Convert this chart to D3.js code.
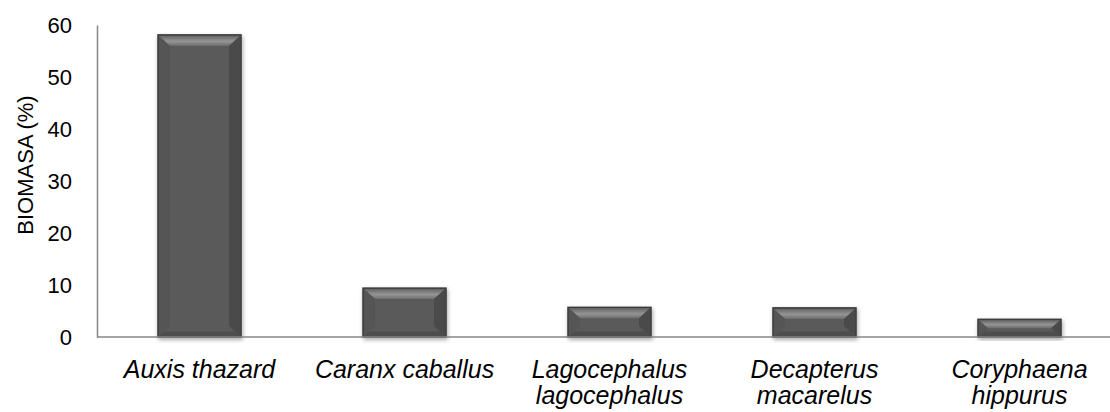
<!DOCTYPE html>
<html>
<head>
    <style>
        body { margin: 0; background: #fff; }
        .tick text { font: 22px "Liberation Sans", Arial, sans-serif; fill: #000; }
        .cat { font: italic 25px "Liberation Sans", Arial, sans-serif; fill: #000; }
        .ytitle { font: 22px "Liberation Sans", Arial, sans-serif; fill: #000; }
    </style>
</head>
<body>
    <div id="chart"></div>
    <script src="https://d3js.org/d3.v7.min.js"></script>
    <script>
        // data
        const species = [
            ["Auxis thazard"],
            ["Caranx caballus"],
            ["Lagocephalus", "lagocephalus"],
            ["Decapterus", "macarelus"],
            ["Coryphaena", "hippurus"]
        ];
        const biomasa = [58.1, 9.4, 5.7, 5.6, 3.4];
        const yTicks = [0, 10, 20, 30, 40, 50, 60];

        const width = 1110, height = 412;
        const plotLeft = 97, plotTop = 25, plotBottom = 337;

        const svg = d3.select("#chart").append("svg")
            .attr("width", width)
            .attr("height", height);

        const defs = svg.append("defs");
        const shadow = defs.append("filter").attr("id", "shadow")
            .attr("x", "-20%").attr("y", "-20%").attr("width", "140%").attr("height", "140%");
        shadow.append("feDropShadow")
            .attr("dx", 1).attr("dy", 2).attr("stdDeviation", 2)
            .attr("flood-color", "#000").attr("flood-opacity", 0.35);

        const topGrad = defs.append("linearGradient").attr("id", "topBevel")
            .attr("x1", 0).attr("y1", 0).attr("x2", 0).attr("y2", 1);
        topGrad.append("stop").attr("offset", "0%").attr("stop-color", "#666");
        topGrad.append("stop").attr("offset", "55%").attr("stop-color", "#959595");
        topGrad.append("stop").attr("offset", "100%").attr("stop-color", "#6c6c6c");

        const x = d3.scaleBand()
            .domain(d3.range(species.length))
            .range([plotLeft, plotLeft + 1025])
            .paddingInner(0.595)
            .paddingOuter(0.2975);

        const y = d3.scaleLinear().domain([0, 60]).range([plotBottom, plotTop]);

        // y axis (no tick marks)
        const yAxis = svg.append("g")
            .attr("transform", `translate(${plotLeft},0)`)
            .call(d3.axisLeft(y).tickValues(yTicks).tickSize(0).tickPadding(25));
        yAxis.select(".domain").attr("stroke", "#868686").attr("stroke-width", 1.5);

        // bars
        const bw = x.bandwidth();
        const bev = 11;
        const bars = svg.selectAll(".bar")
            .data(biomasa)
            .enter()
            .append("g")
            .attr("class", "bar")
            .attr("transform", (d, i) => `translate(${x(i)},${y(d)})`);

        bars.append("rect")
            .attr("width", bw)
            .attr("height", d => plotBottom - y(d))
            .attr("fill", "#5a5a5a")
            .attr("stroke", "#3c3c3c")
            .attr("stroke-width", 1.5)
            .attr("filter", "url(#shadow)");

        // top bevel
        bars.append("path")
            .attr("d", d => {
                const h = Math.min(bev, (plotBottom - y(d)) / 2);
                return `M1,1 L${bw - 1},1 L${bw - 1 - h},${h} L${1 + h},${h} Z`;
            })
            .attr("fill", "url(#topBevel)");

        // side and bottom bevels
        bars.append("path")
            .attr("d", d => {
                const hh = plotBottom - y(d);
                const h = Math.min(bev, hh / 2);
                return `M${bw - 1},1 L${bw - 1},${hh - 1} L${bw - 1 - h},${hh - h} L${bw - 1 - h},${h} Z`;
            })
            .attr("fill", "#4a4a4a");
        bars.append("path")
            .attr("d", d => {
                const hh = plotBottom - y(d);
                const h = Math.min(bev, hh / 2);
                return `M1,1 L${1 + h},${h} L${1 + h},${hh - h} L1,${hh - 1} Z`;
            })
            .attr("fill", "#555");
        bars.append("path")
            .attr("d", d => {
                const hh = plotBottom - y(d);
                const h = Math.min(bev / 2, hh / 3);
                return `M1,${hh - 1} L${1 + h},${hh - h} L${bw - 1 - h},${hh - h} L${bw - 1},${hh - 1} Z`;
            })
            .attr("fill", "#4d4d4d");

        // baseline
        svg.append("line")
            .attr("x1", plotLeft).attr("x2", width)
            .attr("y1", y(0)).attr("y2", y(0))
            .attr("stroke", "#868686").attr("stroke-width", 1.5);

        // category labels
        const labels = svg.selectAll(".cat")
            .data(species)
            .enter()
            .append("text")
            .attr("class", "cat")
            .attr("text-anchor", "middle")
            .attr("transform", (d, i) => `translate(${x(i) + bw / 2},378)`);
        labels.selectAll("tspan")
            .data(d => d)
            .enter()
            .append("tspan")
            .attr("x", 0)
            .attr("dy", (d, j) => j === 0 ? 0 : 26)
            .text(d => d);

        // y title
        svg.append("text")
            .attr("class", "ytitle")
            .attr("text-anchor", "middle")
            .attr("transform", `translate(33,${(plotTop + plotBottom) / 2 - 16}) rotate(-90)`)
            .text("BIOMASA (%)");
    </script>
</body>
</html>
